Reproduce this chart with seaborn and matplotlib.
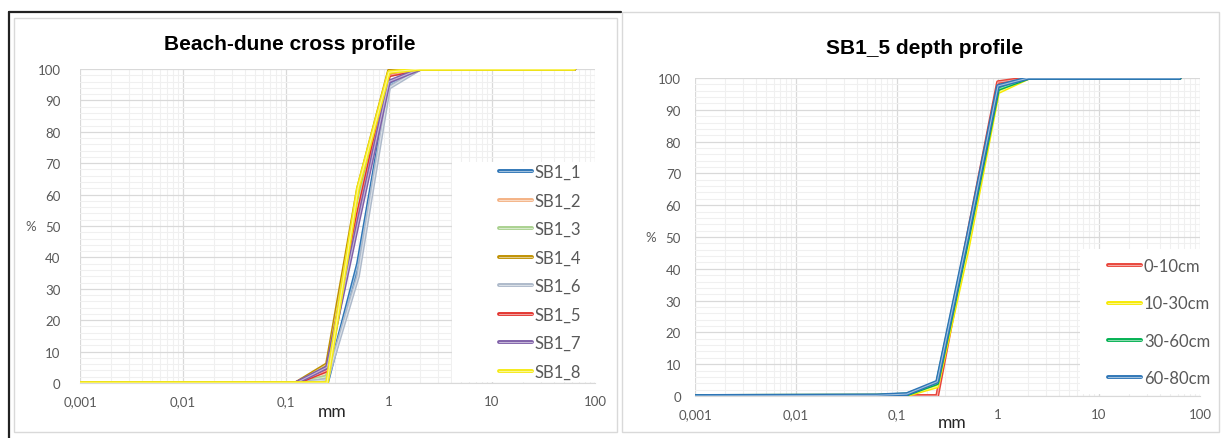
import numpy as np
import pandas as pd
import seaborn as sns
import matplotlib.pyplot as plt
import matplotlib.patheffects as pe
from matplotlib.colors import to_rgb
from matplotlib.patches import Rectangle
from matplotlib.lines import Line2D
from matplotlib.ticker import FixedLocator, FuncFormatter, MultipleLocator

# sieve sizes (mm)
sizes = [0.001, 0.063, 0.125, 0.25, 0.5, 1, 2, 63]

# cumulative % passing, beach-dune cross profile
cross_names = ['SB1_1', 'SB1_2', 'SB1_3', 'SB1_4', 'SB1_6', 'SB1_5', 'SB1_7', 'SB1_8']
sb1_1 = [0, 0, 0, 0, 38, 95, 100, 100]
sb1_2 = [0, 0, 0, 3, 60, 99, 100, 100]
sb1_3 = [0, 0, 0, 2, 57, 98, 100, 100]
sb1_4 = [0, 0, 0, 6, 62, 99.5, 100, 100]
sb1_6 = [0, 0, 0, 1, 34, 94, 100, 100]
sb1_5 = [0, 0, 0, 4, 54, 98, 100, 100]
sb1_7 = [0, 0, 0, 5, 51, 96, 100, 100]
sb1_8 = [0, 0, 0, 0, 62, 99, 100, 100]
cross_vals = [sb1_1, sb1_2, sb1_3, sb1_4, sb1_6, sb1_5, sb1_7, sb1_8]
cross_colors = ['#2E75B6', '#F4B183', '#A9D18E', '#BF9000', '#ADB9CA', '#E3342F', '#7F5FA8', '#F5EA14']

# SB1_5 depth profile
depth_names = ['0-10cm', '10-30cm', '30-60cm', '60-80cm']
d_0_10 = [0, 0, 0, 0, 50, 98.7, 100, 100]
d_10_30 = [0, 0.1, 0.3, 3, 46, 95.5, 100, 100]
d_30_60 = [0, 0.1, 0.5, 4, 49, 96.5, 100, 100]
d_60_80 = [0, 0.2, 0.6, 4.5, 50, 97.5, 100, 100]
depth_vals = [d_0_10, d_10_30, d_30_60, d_60_80]
depth_colors = ['#E8443A', '#F7EA00', '#00B050', '#2E75B6']

W, H = 1223, 439
sns.set_style("white")
plt.rcParams['font.family'] = ['Lato', 'DejaVu Sans']

fig = plt.figure(figsize=(W / 100, H / 100), dpi=100)


def fx(px):
    return px / W


def fy(py):
    return 1 - py / H


def lighter(c, k=0.55):
    r, g, b = to_rgb(c)
    return (r + (1 - r) * k, g + (1 - g) * k, b + (1 - b) * k)


def tick_fmt(v, pos):
    s = ('%g' % v).replace('.', ',')
    return s


def make_panel(rect, names, vals, colors, title, title_xy, legend_box, legend_anchor,
               spacing, xlab_xy, ylab_x, ypad, xpad):
    ax = fig.add_axes(rect)
    rows = []
    for n, v in zip(names, vals):
        for s, p in zip(sizes, v):
            rows.append({'size': s, 'pct': p, 'sample': n})
    df = pd.DataFrame(rows)
    for n, c in zip(names, colors):
        sns.lineplot(data=df[df['sample'] == n], x='size', y='pct', ax=ax, color=c,
                     label=n, lw=2.6, zorder=3,
                     path_effects=[pe.Stroke(linewidth=2.8, foreground=c),
                                   pe.Stroke(linewidth=0.8, foreground=lighter(c))])
    ax.set_xscale('log')
    ax.set_xlim(0.001, 100)
    ax.set_ylim(0, 100)
    ax.xaxis.set_major_locator(FixedLocator([0.001, 0.01, 0.1, 1, 10, 100]))
    ax.xaxis.set_major_formatter(FuncFormatter(tick_fmt))
    minors = [m * 10.0 ** e for e in range(-3, 2) for m in range(2, 10)]
    ax.xaxis.set_minor_locator(FixedLocator(minors))
    ax.yaxis.set_major_locator(MultipleLocator(10))
    ax.yaxis.set_minor_locator(MultipleLocator(2))
    ax.set_axisbelow(True)
    ax.grid(which='major', color='#D9D9D9', lw=0.9)
    ax.grid(which='minor', color='#F0F0F0', lw=0.8)
    for sp in ['top', 'left', 'right']:
        ax.spines[sp].set_visible(False)
    ax.spines['bottom'].set_color('#D9D9D9')
    ax.tick_params(which='both', length=0, labelsize=9.5, labelcolor='#595959')
    ax.tick_params(axis='y', pad=ypad)
    ax.tick_params(axis='x', pad=xpad)
    ax.set_xlabel('mm', fontsize=12.5, color='#262626', va='center')
    ax.xaxis.set_label_coords(*xlab_xy)
    ax.set_ylabel('%', fontsize=9.5, color='#595959', rotation=0, va='center', ha='center')
    ax.yaxis.set_label_coords(ylab_x, 0.5)
    ax.add_patch(Rectangle(legend_box[:2], legend_box[2], legend_box[3], transform=ax.transAxes,
                           facecolor='white', edgecolor='none', zorder=1, clip_on=False))
    leg = ax.legend(loc='upper left', bbox_to_anchor=legend_anchor, bbox_transform=fig.transFigure,
                    frameon=False, fontsize=12, handlelength=2.0, handletextpad=0.15,
                    labelspacing=spacing, borderpad=0, borderaxespad=0)
    for t in leg.get_texts():
        t.set_color('#595959')
    fig.text(fx(title_xy[0]), fy(title_xy[1]), title, ha='center', va='center',
             fontsize=15, fontweight='bold', family='Liberation Sans', color='black')
    return ax


ax1 = make_panel([fx(80), fy(384), fx(595) - fx(80), fy(70) - fy(384)],
                 cross_names, cross_vals, cross_colors, 'Beach-dune cross profile', (290, 45),
                 (0.722, 0.004, 0.30, 0.70), (fx(499), fy(165)), 0.75,
                 (0.49, -0.088), -0.095, 14, 9)
ax2 = make_panel([fx(695), fy(397), fx(1200) - fx(695), fy(79) - fy(397)],
                 depth_names, depth_vals, depth_colors, 'SB1_5 depth profile', (925, 48),
                 (0.762, 0.006, 0.24, 0.456), (fx(1108), fy(259)), 1.28,
                 (0.51, -0.082), -0.087, 10, 9)

# panel frames
fig.add_artist(Line2D([fx(9), fx(9)], [fy(13), fy(439)], color='#222222', lw=1.6))
fig.add_artist(Line2D([fx(9), fx(621)], [fy(13), fy(13)], color='#222222', lw=1.6))
fig.add_artist(Rectangle((fx(14), fy(433)), fx(617) - fx(14), fy(19) - fy(433),
                         transform=fig.transFigure, facecolor='none', edgecolor='#D9D9D9', lw=1))
fig.add_artist(Rectangle((fx(622), fy(433)), fx(1219) - fx(622), fy(13) - fy(433),
                         transform=fig.transFigure, facecolor='none', edgecolor='#D9D9D9', lw=1))

plt.savefig('out.png', dpi=100)
